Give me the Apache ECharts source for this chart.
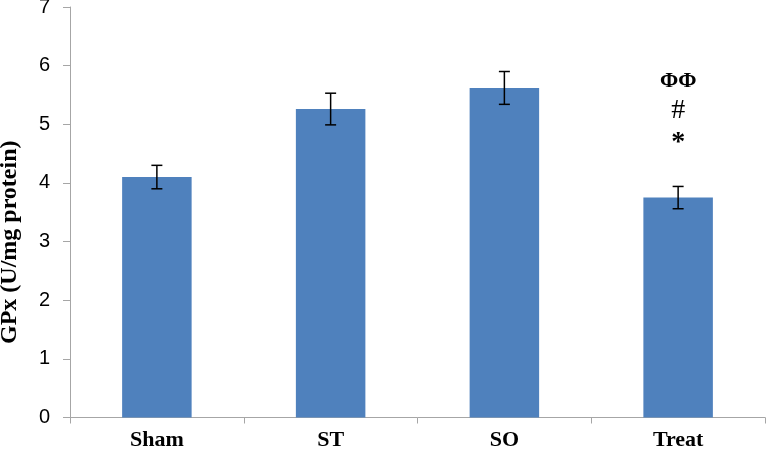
<!DOCTYPE html>
<html><head><meta charset="utf-8">
<script src="https://cdn.jsdelivr.net/npm/echarts@6/dist/echarts.min.js"></script>
<style>html,body{margin:0;padding:0;background:#fff}#c{width:767px;height:452px}</style>
</head><body><div id="c"></div>
<script>
var categories = ['Sham', 'ST', 'SO', 'Treat'];
var values = [4.10, 5.26, 5.62, 3.75];
var errors = [0.20, 0.27, 0.28, 0.19];
var annotations = [[], [], [], ['ΦΦ', '#', '*']];
var yTicks = {min: 0, max: 7, interval: 1};
var yTitle = 'GPx (U/mg protein)';

var chart = echarts.init(document.getElementById('c'));
var errData = values.map(function (v, i) { return [i, v - errors[i], v + errors[i]]; });
var annOffsets = [-105, -76, -44];
var annFonts = ['bold 22px "Liberation Serif"', '28px "Liberation Serif"', 'bold 28px "Liberation Serif"'];
chart.setOption({
  animation: false,
  grid: {left: 70, right: 2, top: 7, bottom: 34.5, containLabel: false, outerBoundsMode: 'none'},
  xAxis: {
    type: 'category', data: categories,
    axisLine: {lineStyle: {color: '#a6a6a6', width: 1}},
    axisTick: {show: true, length: 6, lineStyle: {color: '#a6a6a6'}},
    axisLabel: {color: '#000', fontFamily: 'Liberation Serif', fontWeight: 'bold', fontSize: 22, margin: 12}
  },
  yAxis: {
    type: 'value', min: yTicks.min, max: yTicks.max, interval: yTicks.interval,
    name: yTitle, nameLocation: 'middle', nameGap: 48, nameRotate: 90,
    nameTextStyle: {color: '#000', fontFamily: 'Liberation Serif', fontWeight: 'bold', fontSize: 24, padding: [0, 60, 0, 0]},
    axisLine: {show: true, lineStyle: {color: '#a6a6a6', width: 1}},
    axisTick: {show: true, length: 7, lineStyle: {color: '#a6a6a6'}},
    splitLine: {show: false},
    axisLabel: {color: '#000', fontFamily: 'Liberation Sans', fontSize: 20, margin: 20}
  },
  series: [{
    type: 'bar', data: values, barWidth: '40%',
    itemStyle: {color: '#4f81bd'}
  }, {
    type: 'custom', data: errData, z: 10,
    renderItem: function (params, api) {
      var i = api.value(0);
      var lo = api.coord([i, api.value(1)]);
      var hi = api.coord([i, api.value(2)]);
      var w = 5.5;
      var st = {stroke: '#000', lineWidth: 1.5};
      var children = [
        {type: 'line', shape: {x1: lo[0], y1: lo[1], x2: hi[0], y2: hi[1]}, style: st},
        {type: 'line', shape: {x1: lo[0] - w, y1: lo[1], x2: lo[0] + w, y2: lo[1]}, style: st},
        {type: 'line', shape: {x1: hi[0] - w, y1: hi[1], x2: hi[0] + w, y2: hi[1]}, style: st}
      ];
      (annotations[i] || []).forEach(function (t, k) {
        children.push({type: 'text', x: hi[0], y: hi[1] + annOffsets[k],
          style: {text: t, fill: '#000', font: annFonts[k], align: 'center', verticalAlign: 'middle'}});
      });
      return {type: 'group', children: children};
    }
  }]
});
</script></body></html>
